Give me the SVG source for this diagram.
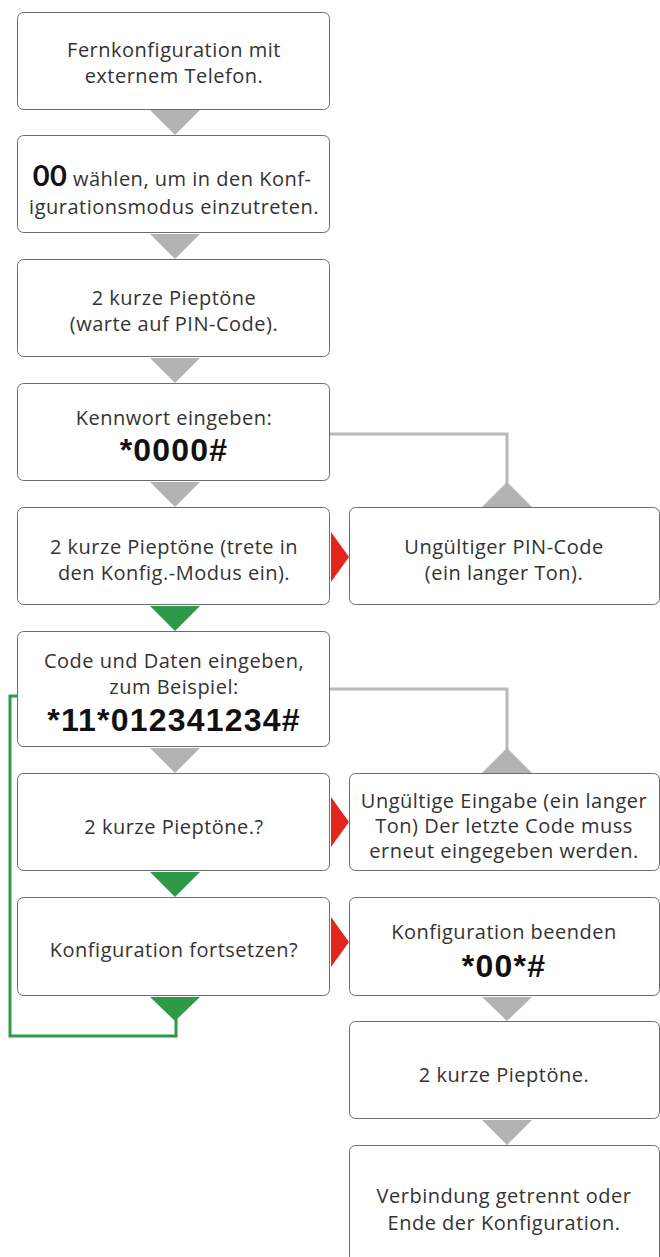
<svg xmlns="http://www.w3.org/2000/svg" width="660" height="1257" viewBox="0 0 660 1257">
<style>
.box{fill:#fff;stroke:#6b6b6b;stroke-width:1}
.t{font-family:"Open Sans","Noto Sans",sans-serif;font-size:20px;letter-spacing:0.5px;fill:#333;text-anchor:middle}
.b{font-family:"Liberation Sans",Arial,sans-serif;font-weight:bold;font-size:32px;letter-spacing:1.2px;fill:#111;text-anchor:middle}
.gt{fill:#b3b3b3}
.gr{fill:#2e9a47}
.rd{fill:#e3261d}
.gl{fill:none;stroke:#b8b8b8;stroke-width:3}
.gn{fill:none;stroke:#2e9a47;stroke-width:3}
</style>
<rect width="660" height="1257" fill="#fff"/>
<g id="connectors">
<polyline class="gl" points="330,434 507,434 507,486"/>
<polyline class="gl" points="330,689 507,689 507,752"/>
<polyline class="gn" points="17,696 10,696 10,1036 176,1036 176,1018"/>
<polygon class="gt" points="150,110 200,110 175,135"/>
<polygon class="gt" points="150,234 200,234 175,259"/>
<polygon class="gt" points="150,358 200,358 175,383"/>
<polygon class="gt" points="150,482 200,482 175,507"/>
<polygon class="gt" points="482,507 532,507 507,482"/>
<polygon class="rd" points="331,532 349,557 331,582"/>
<polygon class="gr" points="150,606 200,606 175,631"/>
<polygon class="gt" points="150,748 200,748 175,773"/>
<polygon class="gt" points="482,773 532,773 507,748"/>
<polygon class="rd" points="331,797 349,822 331,847"/>
<polygon class="gr" points="150,872 200,872 175,897"/>
<polygon class="rd" points="331,917 349,942 331,967"/>
<polygon class="gr" points="150,997 200,997 175,1021"/>
<polygon class="gt" points="482,997 532,997 507,1021"/>
<polygon class="gt" points="482,1120 532,1120 507,1145"/>
</g>
<g id="n1"><rect class="box" x="17.5" y="12.5" width="312" height="97" rx="6"/>
<text class="t" x="174" y="57">Fernkonfiguration mit</text><text class="t" x="174" y="83">externem Telefon.</text></g>
<g id="n2"><rect class="box" x="17.5" y="135.5" width="312" height="97" rx="6"/>
<text class="t" x="172" y="186"><tspan font-family="Lato,'Open Sans',sans-serif" font-weight="bold" font-size="29" letter-spacing="0.5" fill="#111">00</tspan> wählen, um in den Konf-</text><text class="t" x="174" y="214">igurationsmodus einzutreten.</text></g>
<g id="n3"><rect class="box" x="17.5" y="259.5" width="312" height="97" rx="6"/>
<text class="t" x="174" y="305">2 kurze Pieptöne</text><text class="t" x="174" y="331">(warte auf PIN-Code).</text></g>
<g id="n4"><rect class="box" x="17.5" y="383.5" width="312" height="97" rx="6"/>
<text class="t" x="174" y="425">Kennwort eingeben:</text><text class="b" x="174" y="461">*0000#</text></g>
<g id="n5"><rect class="box" x="17.5" y="507.5" width="312" height="97" rx="6"/>
<text class="t" x="174" y="554">2 kurze Pieptöne (trete in</text><text class="t" x="174" y="580">den Konfig.-Modus ein).</text></g>
<g id="n5r"><rect class="box" x="349.5" y="507.5" width="310" height="97" rx="6"/>
<text class="t" x="504" y="554">Ungültiger PIN-Code</text><text class="t" x="504" y="580">(ein langer Ton).</text></g>
<g id="n6"><rect class="box" x="17.5" y="631.5" width="312" height="115" rx="6"/>
<text class="t" x="174" y="668">Code und Daten eingeben,</text><text class="t" x="174" y="694">zum Beispiel:</text><text class="b" x="174" y="731">*11*012341234#</text></g>
<g id="n7"><rect class="box" x="17.5" y="773.5" width="312" height="97" rx="6"/>
<text class="t" x="174" y="834">2 kurze Pieptöne.?</text></g>
<g id="n7r"><rect class="box" x="349.5" y="773.5" width="310" height="97" rx="6"/>
<text class="t" x="504" y="808">Ungültige Eingabe (ein langer</text><text class="t" x="504" y="833">Ton) Der letzte Code muss</text><text class="t" x="504" y="858">erneut eingegeben werden.</text></g>
<g id="n8"><rect class="box" x="17.5" y="897.5" width="312" height="98" rx="6"/>
<text class="t" x="174" y="957">Konfiguration fortsetzen?</text></g>
<g id="n8r"><rect class="box" x="349.5" y="897.5" width="310" height="98" rx="6"/>
<text class="t" x="504" y="939">Konfiguration beenden</text><text class="b" x="504" y="977">*00*#</text></g>
<g id="n9"><rect class="box" x="349.5" y="1021.5" width="310" height="97" rx="6"/>
<text class="t" x="504" y="1082">2 kurze Pieptöne.</text></g>
<g id="n10"><rect class="box" x="349.5" y="1145.5" width="310" height="130" rx="6"/>
<text class="t" x="504" y="1203">Verbindung getrennt oder</text><text class="t" x="504" y="1230">Ende der Konfiguration.</text></g>
</svg>
